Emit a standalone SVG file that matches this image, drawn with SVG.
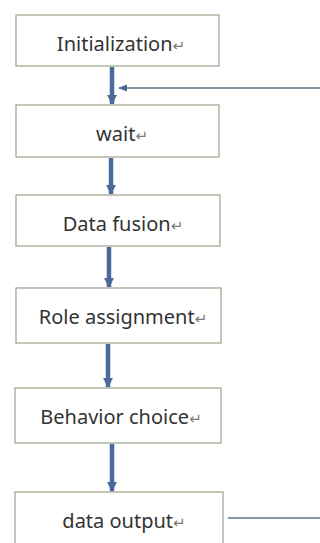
<svg xmlns="http://www.w3.org/2000/svg" width="320" height="543" viewBox="0 0 320 543">
  <defs>
    <style>
      .box { fill: #ffffff; stroke: #a3a892; stroke-width: 1.3; }
      .label { font-family: "Noto Sans", "Open Sans", "DejaVu Sans", sans-serif; font-size: 20px; fill: #333333; text-anchor: middle; }
      .ret { font-size: 15px; fill: #7a7a7a; }
      .flow { stroke: #4a6a9a; stroke-width: 4.5; fill: none; }
      .back { stroke: #5f7585; stroke-width: 1.5; fill: none; }
    </style>
    <marker id="headDown" viewBox="0 0 10 10" refX="9" refY="5" markerWidth="2.2" markerHeight="2.2" orient="auto">
      <path d="M0,0 L10,5 L0,10 z" fill="#4a6a9a"/>
    </marker>
    <marker id="headLeft" viewBox="0 0 10 10" refX="9" refY="5" markerWidth="6" markerHeight="6" orient="auto">
      <path d="M0,1 L10,5 L0,9 z" fill="#4a6a9a"/>
    </marker>
  </defs>
  <rect width="320" height="543" fill="#ffffff"/>

  <g id="connectors">
    <line class="flow" x1="112" y1="67" x2="112" y2="104" marker-end="url(#headDown)"/>
    <line class="flow" x1="111" y1="158" x2="111" y2="194" marker-end="url(#headDown)"/>
    <line class="flow" x1="109" y1="247" x2="109" y2="287" marker-end="url(#headDown)"/>
    <line class="flow" x1="108" y1="344" x2="108" y2="387" marker-end="url(#headDown)"/>
    <line class="flow" x1="112" y1="444" x2="112" y2="491" marker-end="url(#headDown)"/>
    <line class="back" x1="320" y1="88" x2="119" y2="88" marker-end="url(#headLeft)"/>
    <line class="back" x1="228" y1="518" x2="320" y2="518"/>
  </g>

  <g id="initialization">
    <rect class="box" x="16" y="15" width="203" height="51"/>
    <text class="label" x="121" y="51">Initialization<tspan class="ret">↵</tspan></text>
  </g>
  <g id="wait">
    <rect class="box" x="16" y="105" width="203" height="52"/>
    <text class="label" x="122" y="141">wait<tspan class="ret">↵</tspan></text>
  </g>
  <g id="data-fusion">
    <rect class="box" x="16" y="195" width="204" height="51"/>
    <text class="label" x="123" y="231">Data fusion<tspan class="ret">↵</tspan></text>
  </g>
  <g id="role-assignment">
    <rect class="box" x="16" y="288" width="205" height="55"/>
    <text class="label" x="123" y="324">Role assignment<tspan class="ret">↵</tspan></text>
  </g>
  <g id="behavior-choice">
    <rect class="box" x="15" y="388" width="206" height="55"/>
    <text class="label" x="121" y="424">Behavior choice<tspan class="ret">↵</tspan></text>
  </g>
  <g id="data-output">
    <rect class="box" x="15" y="492" width="208" height="55"/>
    <text class="label" x="124" y="528">data output<tspan class="ret">↵</tspan></text>
  </g>
</svg>
